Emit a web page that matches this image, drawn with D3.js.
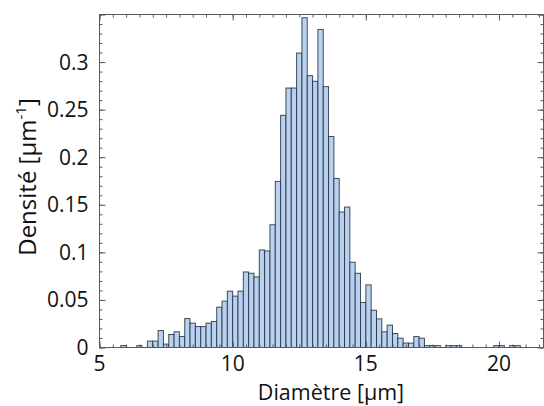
<!DOCTYPE html>
<html>
<head>
<meta charset="utf-8">
<script src="https://cdn.jsdelivr.net/npm/d3@7"></script>
<style>
  html, body { margin: 0; padding: 0; background: #fff; }
  svg { display: block; }
</style>
</head>
<body>
<svg id="chart" width="544" height="406"></svg>
<script>
// ---- data ----
const binWidth = 0.2;
const binStart = [5.8, 6.0, 6.2, 6.4, 6.6, 6.8, 7.0, 7.2, 7.4, 7.6, 7.8, 8.0, 8.2, 8.4, 8.6, 8.8,
  9.0, 9.2, 9.4, 9.6, 9.8, 10.0, 10.2, 10.4, 10.6, 10.8, 11.0, 11.2, 11.4, 11.6, 11.8,
  12.0, 12.2, 12.4, 12.6, 12.8, 13.0, 13.2, 13.4, 13.6, 13.8, 14.0, 14.2, 14.4, 14.6, 14.8,
  15.0, 15.2, 15.4, 15.6, 15.8, 16.0, 16.2, 16.4, 16.6, 16.8, 17.0, 17.2, 17.4, 17.6, 17.8,
  18.0, 18.2, 18.4, 18.6, 18.8, 19.0, 19.2, 19.4, 19.6, 19.8, 20.0, 20.2, 20.4, 20.6];
const density = [0.002, 0, 0, 0.002, 0, 0.0067, 0.0067, 0.0178, 0.0036, 0.0137, 0.0165, 0.0115, 0.0304, 0.0256, 0.022, 0.022,
  0.0256, 0.0273, 0.0424, 0.0487, 0.0592, 0.054, 0.0592, 0.0794, 0.078, 0.0742, 0.1025, 0.1015, 0.129, 0.1746, 0.244,
  0.2727, 0.2727, 0.3095, 0.3466, 0.2857, 0.2798, 0.3343, 0.2742, 0.2218, 0.1777, 0.1424, 0.1476, 0.0896, 0.078, 0.0474,
  0.0658, 0.0392, 0.0301, 0.0165, 0.0235, 0.0147, 0.0098, 0.0046, 0.0046, 0.0115, 0.0098, 0.002, 0.002, 0.002, 0,
  0.002, 0.002, 0.002, 0, 0, 0, 0, 0, 0, 0.002, 0.002, 0, 0.002, 0.002];
const xTickLabels = [5, 10, 15, 20];
const yTickLabels = [0, 0.05, 0.1, 0.15, 0.2, 0.25, 0.3];
const xLabel = "Diamètre [µm]";
const yLabelMain = "Densité [µm";
const yLabelSup = "-1";
const yLabelEnd = "]";

// ---- layout ----
const svg = d3.select("#chart");
const L = 99.5, R = 543.5, T = 14.5, B = 347.5;
const x = d3.scaleLinear().domain([5, 21.67]).range([L, R]);
const y = d3.scaleLinear().domain([0, 0.35]).range([B, T]);
const frameColor = "#5a5a5a";
const font = "'Open Sans', Lato, sans-serif";

const bins = binStart.map((s, i) => ({ x0: s, x1: s + binWidth, v: density[i] })).filter(d => d.v > 0);

svg.append("g").selectAll("rect").data(bins).join("rect")
  .attr("x", d => x(d.x0))
  .attr("y", d => y(d.v))
  .attr("width", d => x(d.x1) - x(d.x0))
  .attr("height", d => y(0) - y(d.v))
  .attr("fill", "#b8d1f0")
  .attr("stroke", "#26303c")
  .attr("stroke-opacity", 0.85)
  .attr("stroke-width", 1);

// axes with minor ticks
function drawAxis(axis, transform) {
  const g = svg.append("g").attr("transform", transform).call(axis);
  g.select(".domain").remove();
  g.selectAll("line").attr("stroke", frameColor);
  g.selectAll("text").remove();
  return g;
}
const xMinor = d3.range(5, 21.6, 0.5);
const xMajor = d3.range(5, 21.6, 5);
const yMinor = d3.range(0, 0.3501, 0.01);
const yMajor = d3.range(0, 0.3501, 0.05);

drawAxis(d3.axisTop(x).tickValues(xMinor).tickSize(3), `translate(0,${B})`);
drawAxis(d3.axisTop(x).tickValues(xMajor).tickSize(6), `translate(0,${B})`);
drawAxis(d3.axisBottom(x).tickValues(xMinor).tickSize(3), `translate(0,${T})`);
drawAxis(d3.axisBottom(x).tickValues(xMajor).tickSize(6), `translate(0,${T})`);
drawAxis(d3.axisRight(y).tickValues(yMinor).tickSize(3), `translate(${L},0)`);
drawAxis(d3.axisRight(y).tickValues(yMajor).tickSize(6), `translate(${L},0)`);
drawAxis(d3.axisLeft(y).tickValues(yMinor).tickSize(3), `translate(${R},0)`);
drawAxis(d3.axisLeft(y).tickValues(yMajor).tickSize(6), `translate(${R},0)`);

svg.append("rect").attr("x", L).attr("y", T).attr("width", R - L).attr("height", B - T)
  .attr("fill", "none").attr("stroke", frameColor).attr("stroke-width", 1);

// tick labels
svg.append("g").selectAll("text").data(xTickLabels).join("text")
  .attr("x", d => x(d)).attr("y", B + 23)
  .attr("text-anchor", "middle")
  .attr("font-family", font).attr("font-size", 21).attr("fill", "#111")
  .text(d => d);
svg.append("g").selectAll("text").data(yTickLabels).join("text")
  .attr("x", L - 11).attr("y", d => y(d) + 7.5)
  .attr("text-anchor", "end")
  .attr("font-family", font).attr("font-size", 21).attr("fill", "#111")
  .text(d => d3.format("~g")(d));

// axis titles
svg.append("text").attr("x", 331).attr("y", 399.5)
  .attr("text-anchor", "middle")
  .attr("font-family", font).attr("font-size", 21.5).attr("fill", "#111")
  .text(xLabel);
const yl = svg.append("text")
  .attr("transform", "translate(36,177) rotate(-90)")
  .attr("text-anchor", "middle")
  .attr("font-family", font).attr("font-size", 24).attr("fill", "#111");
yl.append("tspan").text(yLabelMain);
yl.append("tspan").attr("dy", -10).attr("font-size", 15).text(yLabelSup);
yl.append("tspan").attr("dy", 10).text(yLabelEnd);
</script>
</body>
</html>
